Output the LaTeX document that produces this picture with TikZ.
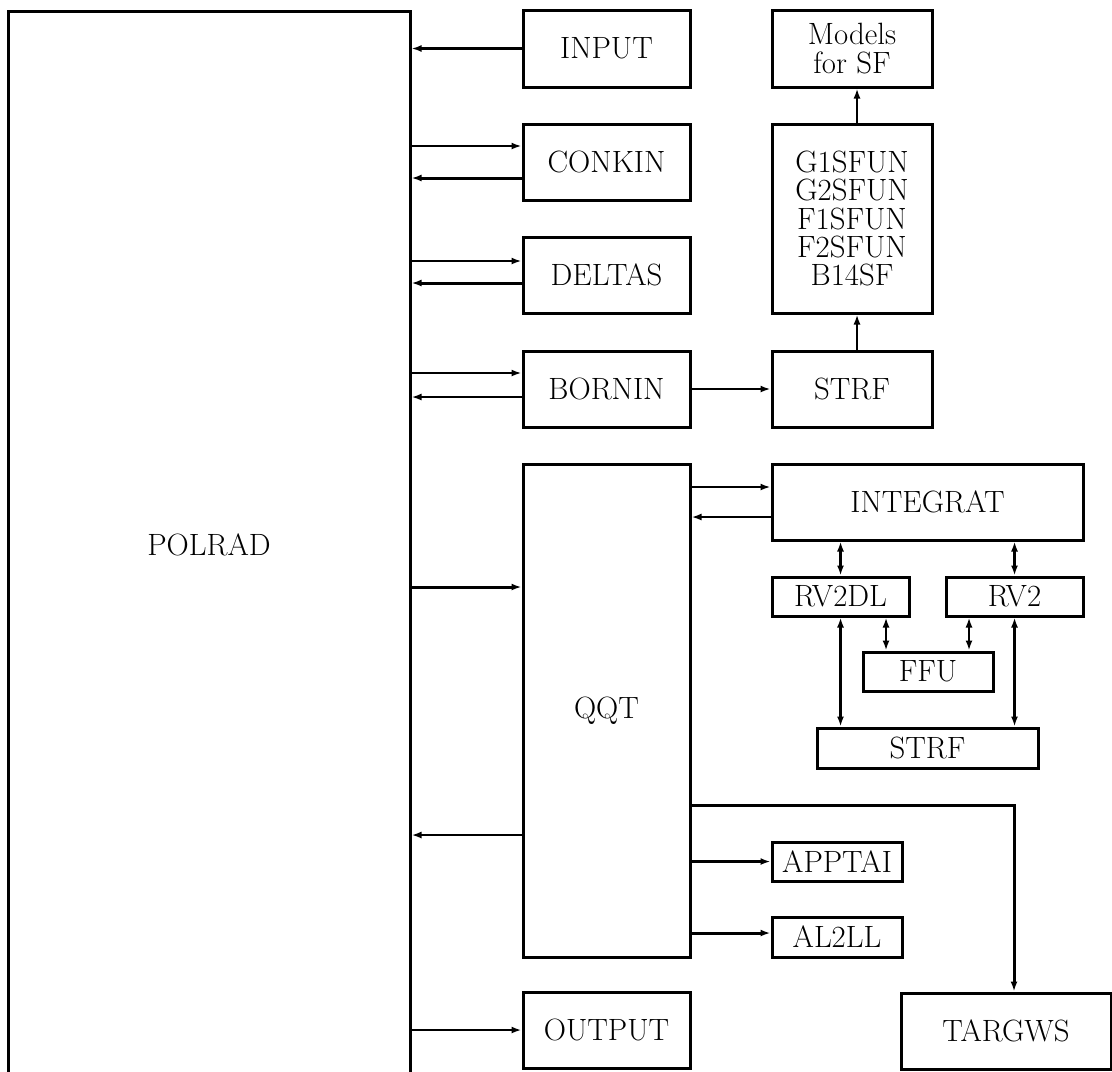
\documentclass[tikz,border=0pt]{standalone}
\usetikzlibrary{arrows.meta}

\begin{document}
\begin{tikzpicture}[x=0.5pt, y=-0.5pt, >={Latex[length=5pt,width=3.5pt]},
    box/.style={draw, line width=1.5pt, inner sep=0pt, align=center,
        font=\fontsize{15.4}{14.2}\selectfont},
    arr/.style={->, line width=1.1pt},
    arrthick/.style={->, line width=1.5pt},
    both/.style={<->, line width=1.5pt}]
    \useasboundingbox (0,0) rectangle (1112,1071);

    % left column
    \node[box, minimum width=201pt, minimum height=534pt] (polrad) at (209,545) {POLRAD};

    \node[box, minimum width=83.5pt, minimum height=38.5pt] (input)  at (606.5,48.5) {INPUT};
    \node[box, minimum width=83.5pt, minimum height=38pt]   (conkin) at (606.5,162)  {CONKIN};
    \node[box, minimum width=83.5pt, minimum height=38pt]   (deltas) at (606.5,275)  {DELTAS};
    \node[box, minimum width=83.5pt, minimum height=38pt]   (bornin) at (606.5,389)  {BORNIN};
    \node[box, minimum width=83.5pt, minimum height=246.5pt] (qqt)   at (606.5,710.5) {QQT};
    \node[box, minimum width=83.5pt, minimum height=38pt]   (output) at (606.5,1030) {OUTPUT};

    % structure functions
    \node[box, minimum width=80pt, minimum height=38.5pt] (models) at (852,48.5) {Models\\for SF};
    \node[box, minimum width=80pt, minimum height=94.5pt] (sfun)   at (852,218.5)
        {G1SFUN\\G2SFUN\\F1SFUN\\F2SFUN\\B14SF};
    \node[box, minimum width=80pt, minimum height=38pt]   (strfa)  at (852,389) {STRF};

    % integration branch
    \node[box, minimum width=155.5pt, minimum height=38pt] (integrat) at (927.5,502) {INTEGRAT};
    \node[box, minimum width=68.5pt, minimum height=19.5pt] (rvdl) at (840.5,596.5) {RV2DL};
    \node[box, minimum width=68.5pt, minimum height=19.5pt] (rv)   at (1014.5,596.5) {RV2};
    \node[box, minimum width=65pt, minimum height=19.5pt]   (ffu)  at (928,671.5) {FFU};
    \node[box, minimum width=110.5pt, minimum height=20pt]  (strfb) at (927.5,748) {STRF};

    \node[box, minimum width=65pt, minimum height=19.5pt] (apptai) at (837,861.5) {APPTAI};
    \node[box, minimum width=65pt, minimum height=20pt]   (altll)  at (837,937) {AL2LL};
    \node[box, minimum width=105pt, minimum height=38pt]  (targws) at (1006,1031) {TARGWS};

    % POLRAD <-> subroutines
    \draw[arr] (input.west) -- (input.west -| polrad.east);
    \draw[arr] ([yshift=8pt]conkin.west -| polrad.east) -- ([yshift=8pt]conkin.west);
    \draw[arrthick] ([yshift=-8pt]conkin.west) -- ([yshift=-8pt]conkin.west -| polrad.east);
    \draw[arr] ([yshift=7pt]deltas.west -| polrad.east) -- ([yshift=7pt]deltas.west);
    \draw[arrthick] ([yshift=-4pt]deltas.west) -- ([yshift=-4pt]deltas.west -| polrad.east);
    \draw[arr] ([yshift=8pt]bornin.west -| polrad.east) -- ([yshift=8pt]bornin.west);
    \draw[arr] ([yshift=-4pt]bornin.west) -- ([yshift=-4pt]bornin.west -| polrad.east);
    \draw[arrthick] ([yshift=61.75pt]qqt.west -| polrad.east) -- ([yshift=61.75pt]qqt.west);
    \draw[arr] ([yshift=-62.25pt]qqt.west) -- ([yshift=-62.25pt]qqt.west -| polrad.east);
    \draw[arr] (output.west -| polrad.east) -- (output.west);

    % structure function chain
    \draw[arr] (bornin) -- (strfa);
    \draw[arr] ([xshift=2.5pt]strfa.north) -- ([xshift=2.5pt]sfun.south);
    \draw[arr] ([xshift=2.5pt]sfun.north) -- ([xshift=2.5pt]models.south);

    % QQT branch
    \draw[arr] ([yshift=7.5pt]integrat.west -| qqt.east) -- ([yshift=7.5pt]integrat.west);
    \draw[arr] ([yshift=-7.5pt]integrat.west) -- ([yshift=-7.5pt]integrat.west -| qqt.east);
    \draw[both] (rvdl.north) -- (rvdl.north |- integrat.south);
    \draw[both] (rv.north) -- (rv.north |- integrat.south);
    \draw[both] (rvdl.south) -- (rvdl.south |- strfb.north);
    \draw[both] (rv.south) -- (rv.south |- strfb.north);
    \draw[<->, line width=1.1pt] ([xshift=-21pt]ffu.north) -- ([xshift=-21pt]ffu.north |- rvdl.south);
    \draw[<->, line width=1.1pt] ([xshift=20.5pt]ffu.north) -- ([xshift=20.5pt]ffu.north |- rv.south);

    \draw[arr] (apptai.west -| qqt.east) -- (apptai.west);
    \draw[arrthick] ([yshift=2pt]altll.west -| qqt.east) -- ([yshift=2pt]altll.west);
    \draw[arrthick] ([yshift=-47.25pt]qqt.east) -| ([xshift=4pt]targws.north);
\end{tikzpicture}
\end{document}
